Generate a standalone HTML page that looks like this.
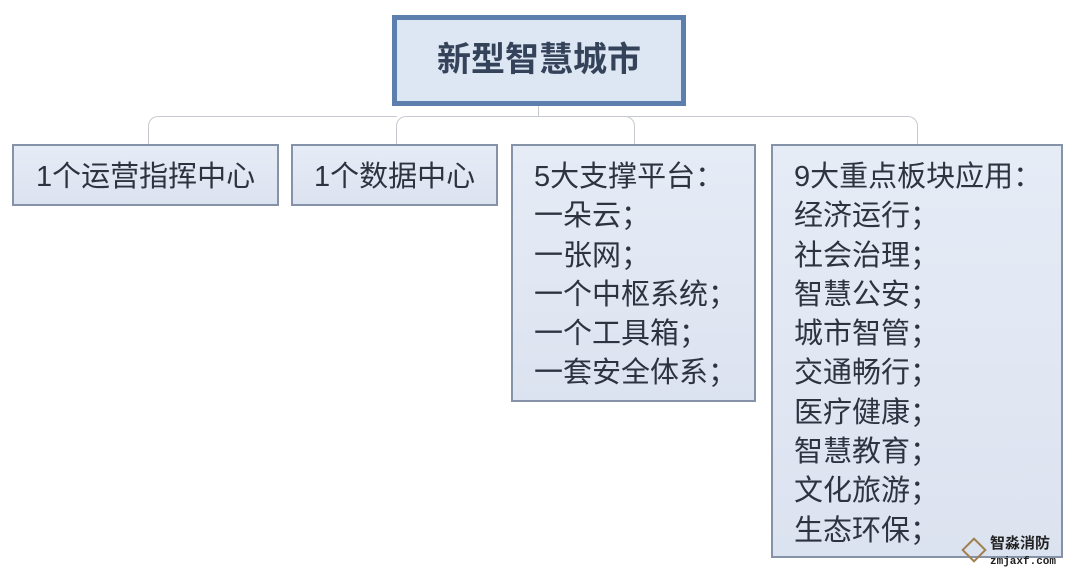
<!DOCTYPE html>
<html><head><meta charset="utf-8"><style>
body{margin:0;width:1080px;height:573px;background:#fff;position:relative;overflow:hidden;font-family:"Liberation Sans","Noto Sans CJK SC",sans-serif;color:#2e3340}
.b{position:absolute;box-sizing:border-box;border:2px solid #8592a8;background:linear-gradient(#e6ecf6,#dce3f0);font-size:29px;line-height:39.3px;padding-left:21px;padding-top:12px;}
.p{font-family:"WenQuanYi Zen Hei",sans-serif}
.l{position:absolute;border:1.5px solid #c6cad0}
</style></head><body>
<div style="position:absolute;left:392px;top:15px;width:294px;height:91px;box-sizing:border-box;border:5px solid #5d7fae;background:#dde6f3;font-size:34px;font-weight:bold;color:#34425a;text-align:center;line-height:81px">新型智慧城市</div>
<div class="l" style="left:538px;top:106px;width:0;height:10px;border-width:0 0 0 1.5px"></div>
<div class="l" style="left:148px;top:116px;width:248px;height:30px;border-width:1.5px 0 0 1.5px;border-top-left-radius:10px"></div>
<div class="l" style="left:396px;top:116px;width:238px;height:30px;border-width:1.5px 0 0 1.5px;border-top-left-radius:10px"></div>
<div class="l" style="left:540px;top:116px;width:94px;height:30px;border-width:1.5px 1.5px 0 0;border-top-right-radius:10px"></div>
<div class="l" style="left:634px;top:116px;width:283px;height:30px;border-width:1.5px 1.5px 0 0;border-top-right-radius:10px"></div>
<div class="b" style="left:12px;top:144px;width:267px;height:62px;padding-left:22px">1个运营指挥中心</div>
<div class="b" style="left:291px;top:144px;width:207px;height:62px">1个数据中心</div>
<div class="b" style="left:511px;top:144px;width:245px;height:258px">5大支撑平台<span class="p">：</span><br>一朵云<span class="p">；</span><br>一张网<span class="p">；</span><br>一个中枢系统<span class="p">；</span><br>一个工具箱<span class="p">；</span><br>一套安全体系<span class="p">；</span></div>
<div class="b" style="left:771px;top:144px;width:292px;height:414px">9大重点板块应用<span class="p">：</span><br>经济运行<span class="p">；</span><br>社会治理<span class="p">；</span><br>智慧公安<span class="p">；</span><br>城市智管<span class="p">；</span><br>交通畅行<span class="p">；</span><br>医疗健康<span class="p">；</span><br>智慧教育<span class="p">；</span><br>文化旅游<span class="p">；</span><br>生态环保<span class="p">；</span></div>
<div style="position:absolute;left:965px;top:541px;width:14px;height:14px;border:2px solid #a08050;transform:rotate(45deg)"></div>
<div style="position:absolute;left:990px;top:536px;font-size:15px;line-height:16px;color:#222;font-weight:bold">智淼消防<br><span style="font-size:11px;font-family:'Liberation Mono',monospace">zmjaxf.com</span></div>
</body></html>
